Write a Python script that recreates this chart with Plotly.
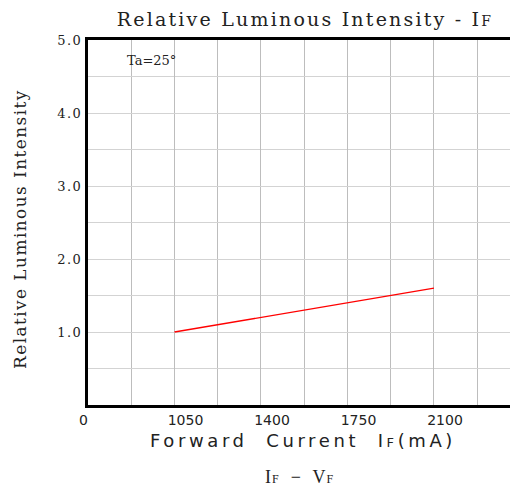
import plotly.graph_objects as go

# Data
current_ma = [1050, 1400, 1750, 2100]
relative_intensity = [1.0, 1.2, 1.4, 1.6]

x_tick_vals = [700, 1050, 1400, 1750, 2100]
x_tick_text = ["0" + "\u00a0" * 7, "1050", "1400", "1750", "2100"]
y_tick_vals = [1, 2, 3, 4, 5]
y_tick_text = ["1.0", "2.0", "3.0", "4.0", "5.0"]

small = "<span style='font-size:{}px'>F</span>"


def spaced(s, px):
    return "<span style='letter-spacing:{}px'>{}</span>".format(px, s)


# page body has an 8px default margin, so the figure is sized 8px smaller
W, H = 510, 485
PW, PH = 430, 365  # plot area size

fig = go.Figure()
fig.add_trace(go.Scatter(
    x=current_ma, y=relative_intensity, mode="lines",
    line=dict(color="#ff0000", width=1.3), showlegend=False,
))

fig.update_layout(
    width=W, height=H,
    margin=dict(l=80, r=0, t=32, b=88),
    paper_bgcolor="white", plot_bgcolor="white",
    title=dict(
        text=spaced("Relative Luminous Intensity - I" + small.format(14), 2.2),
        font=dict(family="DejaVu Serif", size=19, color="#222"),
        x=(305 - 8) / W, xanchor="center", y=1 - 11 / H, yanchor="middle",
    ),
    xaxis=dict(
        range=[700, 2440], automargin=False,
        tickvals=x_tick_vals, ticktext=x_tick_text,
        ticks="", ticklabelshift=11,
        tickfont=dict(family="DejaVu Sans", size=14, color="#222"),
        showgrid=True, gridcolor="#bdbdbd", gridwidth=1,
        minor=dict(dtick=175, tick0=700, showgrid=True, gridcolor="#bdbdbd", gridwidth=1),
        showline=True, linecolor="black", linewidth=3, mirror=True,
        zeroline=False,
        title=dict(
            text=spaced("Forward\u00a0 Current\u00a0 I" + small.format(13) + "(mA)", 3.6),
            font=dict(family="DejaVu Sans", size=18, color="#222"),
            standoff=8,
        ),
    ),
    yaxis=dict(
        range=[0, 5], automargin=False,
        tickvals=y_tick_vals, ticktext=[spaced(t, 1.5) for t in y_tick_text],
        ticks="",
        tickfont=dict(family="DejaVu Serif", size=13, color="#222"),
        showgrid=True, gridcolor="#d3d3d3", gridwidth=1,
        minor=dict(dtick=0.5, tick0=0, showgrid=True, gridcolor="#d3d3d3", gridwidth=1),
        showline=True, linecolor="black", linewidth=3, mirror=False,
        zeroline=False,
    ),
)

fig.add_annotation(
    text=spaced("Relative Luminous Intensity", 1.4),
    textangle=-90,
    x=(20 - 88) / PW, y=(405 - 229) / PH, xref="paper", yref="paper",
    xanchor="center", yanchor="middle", showarrow=False,
    font=dict(family="DejaVu Serif", size=17, color="#222"),
)
fig.add_annotation(
    text="Ta=25°", x=(151 - 88) / PW, y=(405 - 60) / PH, xref="paper", yref="paper",
    xanchor="center", yanchor="middle", showarrow=False,
    font=dict(family="DejaVu Serif", size=13, color="#222"),
)
fig.add_annotation(
    text=spaced("I" + small.format(12) + "\u00a0 \u2212\u00a0 V" + small.format(12), 1),
    x=(299 - 88) / PW, y=(405 - 477) / PH, xref="paper", yref="paper",
    xanchor="center", yanchor="middle", showarrow=False,
    font=dict(family="Liberation Serif", size=18, color="#222"),
)

fig.write_html("out.html")
